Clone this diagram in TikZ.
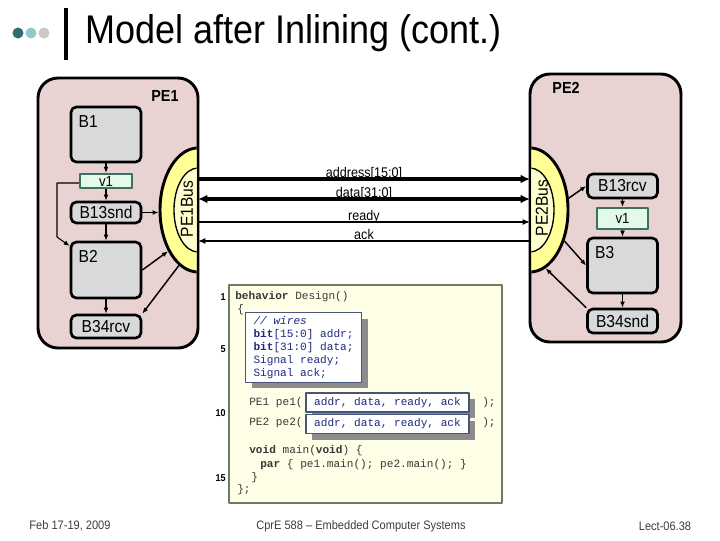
\documentclass[tikz,border=0pt]{standalone}
\usepackage{fontspec}
\setmainfont{Liberation Sans}[FakeStretch=0.9]
\newfontfamily\codefont{Liberation Mono}[WordSpace={1,0,0}]
\usetikzlibrary{arrows.meta,shapes.geometric,shadows}
\definecolor{pepink}{RGB}{233,210,210}
\definecolor{blockgrey}{RGB}{217,217,217}
\definecolor{varfill}{RGB}{228,250,232}
\definecolor{vargreen}{RGB}{62,112,96}
\definecolor{busyellow}{RGB}{255,255,150}
\definecolor{buscore}{RGB}{255,255,205}
\definecolor{codefill}{RGB}{255,255,232}
\definecolor{codeframe}{RGB}{110,122,100}
\definecolor{codetext}{RGB}{55,55,55}
\definecolor{navy}{RGB}{30,40,130}
\definecolor{ovframe}{RGB}{70,85,120}
\definecolor{shadowgrey}{RGB}{140,140,140}
\definecolor{dotdark}{RGB}{47,110,115}
\definecolor{dotlight}{RGB}{145,200,200}
\definecolor{dotgrey}{RGB}{200,200,200}
\definecolor{foottext}{RGB}{60,60,60}
\begin{document}
\begin{tikzpicture}[x=0.75pt,y=-0.75pt,>={Latex[length=4.5pt,width=3.6pt]},line join=round]
	\tikzset{
		pebox/.style={draw,line width=2.2pt,fill=pepink,rounded corners=15pt,inner sep=0},
		block/.style={draw,line width=2pt,fill=blockgrey,rounded corners=4pt,inner sep=0,minimum width=52.5pt,font=\fontsize{13}{15}\selectfont},
		blocklbl/.style={anchor=north west,inner sep=0,xshift=6.5pt,yshift=-7pt,font=\fontsize{13}{15}\selectfont},
		varbox/.style={draw=vargreen,line width=1.6pt,fill=varfill,inner sep=0,font=\fontsize{11}{13}\selectfont},
		busring/.style={ellipse,draw,line width=2.2pt,fill=busyellow,inner sep=0,minimum width=57pt,minimum height=93pt},
		buscorestyle/.style={ellipse,draw,line width=1pt,fill=buscore,inner sep=0,minimum width=36pt,minimum height=63pt},
		buslbl/.style={rotate=90,inner sep=0,font=\fontsize{13}{15}\selectfont},
		conn/.style={->,line width=1.1pt},
		sig/.style={midway,anchor=base,yshift=1.2pt,inner sep=0,font=\fontsize{10.5}{12}\selectfont},
		code/.style={anchor=west,inner sep=0,text height=6pt,text depth=2pt,text=codetext,font=\codefont\fontsize{8.33}{9.64}\selectfont},
		ovbox/.style={draw=ovframe,line width=0.8pt,fill=white,text=navy,font=\codefont\fontsize{8.33}{9.64}\selectfont,
			drop shadow={shadow xshift=4.5pt,shadow yshift=-4.5pt,fill=shadowgrey,opacity=1}},
		lineno/.style={anchor=east,inner sep=0,font=\bfseries\fontsize{7.5}{9}\selectfont},
		foot/.style={inner sep=0,text=foottext,font=\fontsize{9.2}{11}\selectfont}
	}
	\useasboundingbox (0,0) rectangle (720,540);
	\fill[dotdark] (18,33) circle (5.5);
	\fill[dotlight] (31,33) circle (5.5);
	\fill[dotgrey] (44,33) circle (5.5);
	\draw[line width=2.5pt] (66,8) -- (66,60);
	\node[anchor=west,inner sep=0,font=\fontsize{30}{34}\selectfont] (title) at (85,33) {Model after Inlining (cont.)};
	
	\node[pebox,minimum width=120pt,minimum height=202.5pt] (pe1) at (118,213) {};
	\node[pebox,minimum width=113.25pt,minimum height=201pt] (pe2) at (605.5,208) {};
	\node[font=\bfseries\fontsize{12}{14}\selectfont] (pe1lbl) at (165,96) {PE1};
	\node[font=\bfseries\fontsize{12}{14}\selectfont] (pe2lbl) at (566,88) {PE2};
	
	\begin{scope}
		\clip (140,100) rectangle (196.6,300);
		\node[busring] (pe1bus) at (198,210) {};
		\node[buscorestyle] (pe1core) at (198,210) {};
	\end{scope}
	\begin{scope}
		\clip (531.4,100) rectangle (600,300);
		\node[busring] (pe2bus) at (530,210) {};
		\node[buscorestyle] (pe2core) at (530,210) {};
	\end{scope}
	\node[buslbl] (pe1buslbl) at (187,209) {PE1Bus};
	\node[buslbl] (pe2buslbl) at (542,208) {PE2Bus};
	
	\node[block,minimum height=41.25pt,label={[blocklbl]north west:B1}] (b1) at (106,134.5) {};
	\node[varbox,minimum width=39pt,minimum height=10.5pt] (v1a) at (106,181) {v1};
	\node[block,minimum height=15.75pt] (b13snd) at (106,212.5) {B13snd};
	\node[block,minimum height=42pt,label={[blocklbl]north west:B2}] (b2) at (106,270) {};
	\node[block,minimum height=17.25pt] (b34rcv) at (106,326.5) {B34rcv};
	
	\node[block,minimum height=18pt] (b13rcv) at (622.5,186) {B13rcv};
	\node[varbox,minimum width=38.25pt,minimum height=15.75pt] (v1b) at (622.5,218.5) {v1};
	\node[block,minimum height=41.25pt,label={[blocklbl]north west:B3}] (b3) at (622.5,265.5) {};
	\node[block,minimum height=18pt] (b34snd) at (622.5,321) {B34snd};
	
	\draw[conn] (b1) -- (v1a);
	\draw[conn] (v1a) -- (b13snd);
	\draw[conn] (b13snd) -- (b2);
	\draw[conn] (b2) -- (b34rcv);
	\coordinate (v1bend) at (57,237);
	\draw[->,line width=0.8pt] ([yshift=-1.5pt]v1a.west) -| (v1bend) -- ([yshift=-4pt]b2.north west);
	\draw[conn] (b13snd.east) -- (b13snd.east -| pe1bus.west);
	\draw[conn] (b2.east) -- (pe1bus.234);
	\draw[conn] (pe1bus.251) -- (b34rcv.north east);
	
	\draw[conn] (pe2bus.17) -- (b13rcv.west);
	\draw[conn] (b13rcv) -- (v1b);
	\draw[conn] (v1b) -- (b3);
	\draw[conn] (pe2bus.318) -- (b3.west);
	\draw[conn] (b3) -- (b34snd);
	\draw[conn] (b34snd.north west) -- (pe2bus.285);
	
	\draw[-{Latex[length=7pt,width=6.5pt]},line width=3pt] ([yshift=23.25pt]pe1bus.center) -- ([yshift=23.25pt]pe2bus.center) node[sig] (addrlbl) {address[15:0]};
	\draw[{Latex[length=7pt,width=6.5pt]}-{Latex[length=7pt,width=6.5pt]},line width=3pt] ([yshift=8.25pt]pe1bus.center) -- ([yshift=8.25pt]pe2bus.center) node[sig] (datalbl) {data[31:0]};
	\draw[-{Latex[length=5.5pt,width=4.5pt]},line width=1.5pt] ([yshift=-9pt]pe1bus.center) -- ([yshift=-9pt]pe2bus.center) node[sig] (readylbl) {ready};
	\draw[{Latex[length=5.5pt,width=4.5pt]}-,line width=1.5pt] ([yshift=-23.25pt]pe1bus.center) -- ([yshift=-23.25pt]pe2bus.center) node[sig] (acklbl) {ack};
	
	\node[draw=codeframe,fill=codefill,line width=0.8pt,minimum width=204.75pt,minimum height=163.5pt,inner sep=0] (codebox) at (365.5,394) {};
	\foreach \n/\y in {1/297,5/349,10/413,15/478}
	\node[lineno] (ln\n) at (226,\y) {\n};
	\node[code] (c1) at (235,297) {\textbf{behavior} Design()};
	\node[code] (c2) at (237,310) {\{};
	\node[ovbox,anchor=north west,inner xsep=6pt,inner ysep=3pt,align=left] (wires) at (245,312)
	{\textit{// wires}\\\textbf{bit}[15:0] addr;\\\textbf{bit}[31:0] data;\\Signal ready;\\Signal ack;};
	\node[code] (c9a) at (249,403) {PE1 pe1(};
	\node[ovbox,minimum width=122.25pt,minimum height=14.25pt,inner sep=0] (ports1) at (387.5,402.5) {addr, data, ready, ack};
	\node[code] (c9b) at (482,403) {);};
	\node[code] (c10a) at (249,423) {PE2 pe2(};
	\node[ovbox,minimum width=122.25pt,minimum height=14.25pt,inner sep=0] (ports2) at (387.5,424) {addr, data, ready, ack};
	\node[code] (c10b) at (482,423) {);};
	\node[code] (c13) at (249,451) {\textbf{void} main(\textbf{void}) \{};
	\node[code] (c14) at (260,465) {\textbf{par} \{ pe1.main(); pe2.main(); \}};
	\node[code] (c15) at (251,478) {\}};
	\node[code] (c16) at (237,490) {\};};
	
	\node[foot] (date) at (70,526) {Feb 17-19, 2009};
	\node[foot] (course) at (361,526) {CprE 588 -- Embedded Computer Systems};
	\node[foot] (slide) at (665,526) {Lect-06.38};
\end{tikzpicture}
\end{document}
